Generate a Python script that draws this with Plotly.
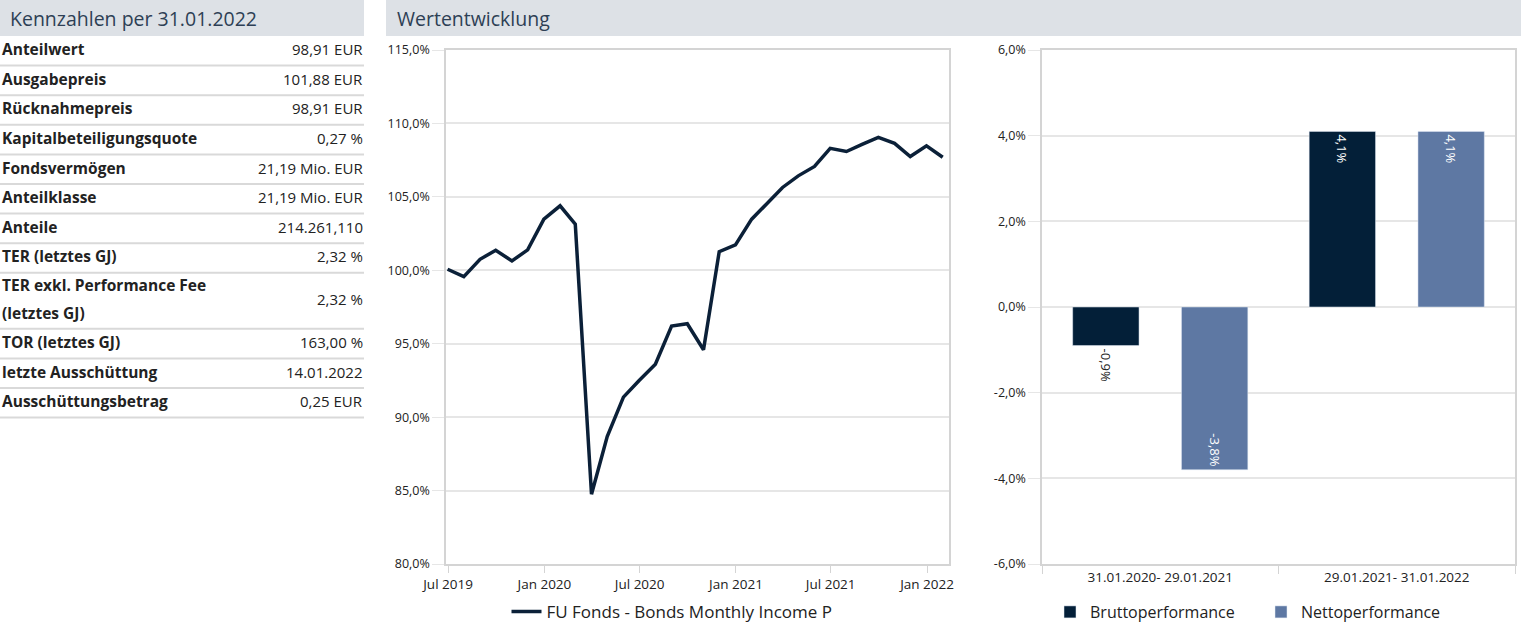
import plotly.graph_objects as go

# ---------------- data ----------------
table_labels = ["Anteilwert", "Ausgabepreis", "Rücknahmepreis", "Kapitalbeteiligungsquote",
                "Fondsvermögen", "Anteilklasse", "Anteile", "TER (letztes GJ)",
                "TER exkl. Performance Fee<br>(letztes GJ)", "TOR (letztes GJ)",
                "letzte Ausschüttung", "Ausschüttungsbetrag"]
table_values = ["98,91 EUR", "101,88 EUR", "98,91 EUR", "0,27 %", "21,19 Mio. EUR",
                "21,19 Mio. EUR", "214.261,110", "2,32 %", "2,32 %", "163,00 %",
                "14.01.2022", "0,25 EUR"]

dates = ["2019-06-30", "2019-07-31", "2019-08-31", "2019-09-30", "2019-10-31", "2019-11-30",
         "2019-12-31", "2020-01-31", "2020-02-29", "2020-03-31", "2020-04-30", "2020-05-31",
         "2020-06-30", "2020-07-31", "2020-08-31", "2020-09-30", "2020-10-31", "2020-11-30",
         "2020-12-31", "2021-01-31", "2021-02-28", "2021-03-31", "2021-04-30", "2021-05-31",
         "2021-06-30", "2021-07-31", "2021-08-31", "2021-09-30", "2021-10-31", "2021-11-30",
         "2021-12-31", "2022-01-31"]
fund_values = [100.07, 99.57, 100.75, 101.36, 100.64, 101.39, 103.48, 104.39, 103.14, 84.75,
               88.68, 91.36, 92.50, 93.61, 96.20, 96.36, 94.59, 101.27, 101.73, 103.48,
               104.50, 105.64, 106.43, 107.07, 108.30, 108.09, 108.59, 109.05, 108.64,
               107.75, 108.48, 107.70]
fund_name = "FU Fonds - Bonds Monthly Income P"

periods = ["31.01.2020- 29.01.2021", "29.01.2021- 31.01.2022"]
brutto = [-0.9, 4.1]
netto = [-3.8, 4.1]
bar_ticks = [-6, -4, -2, 0, 2, 4, 6]

header_left = "Kennzahlen per 31.01.2022"
header_right = "Wertentwicklung"


def pct(v):
    return f"{v:.1f}".replace(".", ",") + "%"


# ---------------- styling ----------------
W, H = 1527, 623
FONT = "Open Sans"
NAVY = "#031f38"
BLUE = "#5e78a3"
GRID = "#e6e6e6"
AXIS = "#d4d4d4"
TXT = "#222222"
HEADER_BG = "#dde1e6"
HEADER_TXT = "#2d3f55"


def px(x):
    return x / W


def py(y):
    return 1 - y / H


fig = go.Figure()

fig.add_trace(go.Scatter(
    x=dates, y=fund_values, mode="lines", name=fund_name,
    line=dict(color="#0b2038", width=3.5), xaxis="x", yaxis="y", legend="legend",
    hoverinfo="skip"))

fig.add_trace(go.Bar(
    x=periods, y=brutto, name="Bruttoperformance", marker_color=NAVY,
    xaxis="x2", yaxis="y2", legend="legend2",
    text=[pct(v) for v in brutto], texttemplate="%{text}", textangle=90,
    textposition=["outside", "inside"], insidetextanchor="end",
    constraintext="none", cliponaxis=False,
    insidetextfont=dict(color="white", size=13, family=FONT),
    outsidetextfont=dict(color=TXT, size=13, family=FONT)))
fig.add_trace(go.Bar(
    x=periods, y=netto, name="Nettoperformance", marker_color=BLUE,
    xaxis="x2", yaxis="y2", legend="legend2",
    text=[pct(v) for v in netto], texttemplate="%{text}", textangle=90,
    textposition="inside", insidetextanchor="end",
    constraintext="none", cliponaxis=False,
    insidetextfont=dict(color="white", size=13, family=FONT)))

shapes = []
annotations = []

# headers
shapes.append(dict(type="rect", xref="paper", yref="paper", x0=px(0), x1=px(364),
                   y0=py(36), y1=py(0), fillcolor=HEADER_BG, line_width=0, layer="below"))
shapes.append(dict(type="rect", xref="paper", yref="paper", x0=px(386), x1=px(1521),
                   y0=py(36), y1=py(0), fillcolor=HEADER_BG, line_width=0, layer="below"))
annotations.append(dict(text=header_left, xref="paper", yref="paper", x=px(8), y=py(19),
                        xanchor="left", yanchor="middle", showarrow=False,
                        font=dict(size=19.5, color=HEADER_TXT, family=FONT)))
annotations.append(dict(text=header_right, xref="paper", yref="paper", x=px(395), y=py(19),
                        xanchor="left", yanchor="middle", showarrow=False,
                        font=dict(size=19.5, color=HEADER_TXT, family=FONT)))

# table
y_top = 36.0
for lab, val in zip(table_labels, table_values):
    lines = lab.split("<br>")
    h = 29.6 if len(lines) == 1 else 56.0
    if len(lines) == 1:
        annotations.append(dict(text="<b>" + lab + "</b>", xref="paper", yref="paper",
                                x=px(0), y=py(y_top + h / 2 - 1.5), xanchor="left",
                                yanchor="middle", showarrow=False,
                                font=dict(size=15.5, color=TXT, family=FONT)))
    else:
        for i, ln in enumerate(lines):
            annotations.append(dict(text="<b>" + ln + "</b>", xref="paper", yref="paper",
                                    x=px(0), y=py(y_top + 12.5 + i * 28), xanchor="left",
                                    yanchor="middle", showarrow=False,
                                    font=dict(size=15.5, color=TXT, family=FONT)))
    annotations.append(dict(text=val, xref="paper", yref="paper",
                            x=px(365), y=py(y_top + h / 2 - 1.5), xanchor="right",
                            yanchor="middle", showarrow=False,
                            font=dict(size=15, color=TXT, family=FONT)))
    y_top += h
    shapes.append(dict(type="line", xref="paper", yref="paper", x0=px(0), x1=px(364),
                       y0=py(y_top), y1=py(y_top), line=dict(color="#d9d9d9", width=2)))

ydom = [py(564), py(50)]

fig.update_layout(
    width=W, height=H,
    margin=dict(l=0, r=0, t=0, b=0, autoexpand=False),
    paper_bgcolor="white", plot_bgcolor="white",
    separators=",.",
    font=dict(family=FONT, size=12.5, color=TXT),
    showlegend=True,
    barmode="group", bargap=0.08, bargroupgap=0.39,
    xaxis=dict(domain=[px(446), px(949)], type="date",
               range=["2019-06-27", "2022-02-12"],
               tick0="2019-07-01", dtick="M6", tickformat="%b %Y",
               ticks="outside", ticklen=7, tickcolor=AXIS,
               showgrid=False, showline=True, linecolor=AXIS, linewidth=1.5, mirror=True,
               tickfont=dict(size=13.5, color=TXT), anchor="y", fixedrange=True),
    yaxis=dict(domain=ydom, range=[80, 115], dtick=5, tick0=80,
               tickformat=".1f", ticksuffix="%",
               ticks="outside", ticklen=12, tickcolor=GRID,
               showgrid=True, gridcolor=GRID, gridwidth=1.5, zeroline=False,
               showline=True, linecolor=AXIS, linewidth=1.5, mirror=True,
               tickfont=dict(size=12.5, color=TXT), anchor="x", fixedrange=True),
    xaxis2=dict(domain=[px(1042), px(1515)], type="category",
                ticks="outside", ticklen=8, tickcolor=AXIS, tickson="boundaries",
                showgrid=False, showline=True, linecolor=AXIS, linewidth=1.5, mirror=True,
                tickfont=dict(size=13.5, color=TXT), anchor="y2", fixedrange=True),
    yaxis2=dict(domain=ydom, range=[-6, 6],
                tickvals=bar_ticks, ticktext=[pct(v) for v in bar_ticks],
                ticks="outside", ticklen=12, tickcolor=GRID,
                showgrid=True, gridcolor=GRID, gridwidth=1.5, zeroline=False,
                showline=True, linecolor=AXIS, linewidth=1.5, mirror=True,
                tickfont=dict(size=12.5, color=TXT), anchor="x2", fixedrange=True),
    legend=dict(orientation="h", x=px(672), y=py(612), xanchor="center", yanchor="middle",
                font=dict(size=17, color=TXT, family=FONT), bgcolor="rgba(0,0,0,0)",
                itemwidth=30),
    legend2=dict(orientation="h", x=px(1050), y=py(612), xanchor="left", yanchor="middle",
                 font=dict(size=16, color=TXT, family=FONT), bgcolor="rgba(0,0,0,0)",
                 entrywidth=166, itemwidth=30),
    shapes=shapes,
    annotations=annotations,
)

fig.write_html("out.html")
